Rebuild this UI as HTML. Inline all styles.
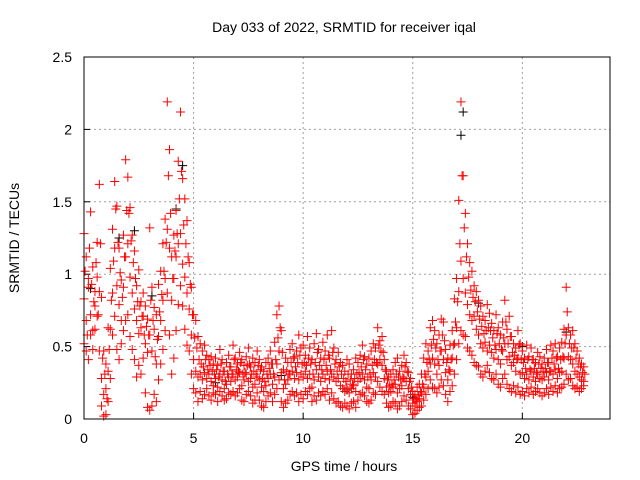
<!DOCTYPE html>
<html><head><meta charset="utf-8"><style>
html,body{margin:0;padding:0;background:#fff}
svg{display:block;font-family:"Liberation Sans",sans-serif}
</style></head><body>
<svg id="c" width="640" height="480" viewBox="0 0 640 480">
<text x="344" y="32" font-size="14" text-anchor="middle">Day 033 of 2022, SRMTID for receiver iqal</text>
<text x="344" y="471" font-size="14" text-anchor="middle">GPS time / hours</text>
<text transform="translate(19,238) rotate(-90)" font-size="14" text-anchor="middle">SRMTID / TECUs</text>
<g id="grid"></g>
<g id="ticks"></g>
<g id="black"></g>
<g id="red"></g>
<rect x="84" y="57" width="526" height="362" fill="none" stroke="#000" stroke-width="1"/>
</svg>
<script>
const xTicks=[0,5,10,15,20];
const yTicks=[0,0.5,1,1.5,2,2.5];
const yTickLabels=["0","0.5","1","1.5","2","2.5"];
const tStart=0, tStep=0.1;
const redA=[1.28,1.12,0.97,1.43,1.05,0.88,1.22,1.62,0.84,0.47, 0.38,0.63,1.04,1.31,1.64,1.47,1.18,0.96,1.27,1.79, 1.67,1.46,1.27,1.16,0.92,1.03,0.81,0.87,0.78,0.69, 1.32,0.91,0.77,0.72,0.93,1.02,1.21,1.38,2.19,1.86, 1.12,1.27,1.44,1.78,2.12,1.66,1.52,1.37,1.08,0.91, 0.72,0.68,0.57,0.52,0.47,0.51,0.44,0.41,0.43,0.38, 0.42,0.37,0.48,0.41,0.33,0.39,0.44,0.36,0.51,0.42, 0.38,0.46,0.41,0.37,0.43,0.49,0.36,0.42,0.39,0.47, 0.41,0.36,0.33,0.39,0.42,0.47,0.38,0.53,0.72,0.78, 0.61,0.34,0.42,0.39,0.48,0.52,0.43,0.47,0.58,0.49, 0.51,0.44,0.57,0.49,0.41,0.52,0.59,0.48,0.42,0.53, 0.47,0.58,0.42,0.61,0.49,0.41,0.46,0.39,0.37,0.33, 0.41,0.38,0.31,0.34,0.42,0.39,0.44,0.51,0.43,0.38, 0.42,0.47,0.52,0.49,0.63,0.54,0.57,0.41,0.33,0.29, 0.31,0.34,0.39,0.42,0.33,0.37,0.44,0.39,0.32,0.28, 0.19,0.17,0.22,0.24,0.31,0.42,0.52,0.47,0.63,0.68, 0.61,0.52,0.58,0.69,0.67,0.48,0.42,0.51,0.61,0.83, 0.97,1.51,2.19,1.68,1.42,1.21,1.08,1.02,0.92,0.88, 0.82,0.78,0.71,0.68,0.79,0.73,0.66,0.61,0.72,0.63, 0.58,0.67,0.82,0.62,0.71,0.57,0.52,0.49,0.61,0.52, 0.47,0.42,0.51,0.43,0.49,0.41,0.39,0.46,0.43,0.38, 0.42,0.48,0.39,0.51,0.47,0.52,0.43,0.49,0.53,0.62, 0.91,0.63,0.58,0.61,0.52,0.47,0.42,0.38,0.36];
const redB=[0.83,0.68,0.91,0.72,0.61,0.78,0.98,0.88,0.28,0.17, 0.21,0.33,0.62,0.87,1.18,0.92,0.79,0.68,0.91,1.12, 1.21,0.98,0.87,0.76,0.68,0.59,0.63,0.71,0.52,0.46, 0.58,0.47,0.62,0.38,0.57,0.68,0.82,0.97,1.31,1.18, 0.82,0.97,1.12,1.21,1.28,1.07,0.98,0.87,0.76,0.58, 0.41,0.33,0.29,0.31,0.27,0.32,0.28,0.31,0.26,0.23, 0.28,0.22,0.31,0.27,0.21,0.24,0.29,0.26,0.31,0.27, 0.29,0.32,0.23,0.27,0.31,0.26,0.28,0.22,0.24,0.29, 0.27,0.22,0.19,0.23,0.28,0.31,0.24,0.29,0.38,0.47, 0.32,0.21,0.24,0.27,0.31,0.33,0.28,0.32,0.27,0.31, 0.29,0.33,0.28,0.31,0.22,0.27,0.34,0.29,0.26,0.31, 0.28,0.33,0.27,0.31,0.29,0.26,0.28,0.23,0.21,0.19, 0.22,0.18,0.21,0.23,0.19,0.26,0.28,0.31,0.27,0.22, 0.21,0.27,0.32,0.29,0.38,0.41,0.37,0.28,0.22,0.18, 0.19,0.22,0.24,0.18,0.21,0.23,0.28,0.26,0.21,0.17, 0.11,0.09,0.12,0.14,0.18,0.22,0.29,0.33,0.38,0.42, 0.38,0.31,0.37,0.47,0.41,0.32,0.27,0.33,0.42,0.52, 0.63,0.88,1.09,0.97,0.87,0.79,0.72,0.68,0.71,0.62, 0.58,0.52,0.49,0.53,0.47,0.51,0.46,0.42,0.48,0.41, 0.38,0.47,0.52,0.41,0.43,0.37,0.39,0.33,0.42,0.31, 0.32,0.28,0.31,0.27,0.33,0.29,0.26,0.31,0.28,0.27, 0.29,0.32,0.27,0.33,0.31,0.34,0.28,0.32,0.33,0.42, 0.58,0.43,0.41,0.38,0.33,0.31,0.29,0.27,0.26];
const redC=[0.52,0.47,0.41,0.58,0.48,0.62,0.71,0.47,0.09,0.02, 0.03,0.12,0.28,0.58,0.71,0.48,0.41,0.52,0.61,0.68, 0.72,0.57,0.48,0.41,0.29,0.37,0.31,0.42,0.18,0.08, 0.06,0.09,0.17,0.12,0.27,0.38,0.48,0.61,0.87,0.58, 0.31,0.42,0.61,0.79,0.92,0.78,0.62,0.51,0.47,0.31, 0.21,0.18,0.12,0.19,0.14,0.17,0.21,0.16,0.13,0.18, 0.17,0.12,0.19,0.16,0.13,0.14,0.18,0.17,0.19,0.16, 0.18,0.21,0.13,0.12,0.17,0.19,0.16,0.11,0.13,0.18, 0.13,0.09,0.08,0.12,0.16,0.18,0.12,0.17,0.21,0.27, 0.12,0.08,0.11,0.13,0.17,0.19,0.16,0.18,0.12,0.17, 0.14,0.19,0.17,0.21,0.12,0.16,0.13,0.18,0.16,0.19, 0.17,0.21,0.13,0.18,0.14,0.11,0.12,0.09,0.08,0.11, 0.09,0.07,0.11,0.12,0.08,0.13,0.17,0.18,0.16,0.12, 0.11,0.13,0.18,0.17,0.26,0.22,0.19,0.17,0.11,0.08, 0.09,0.12,0.11,0.07,0.09,0.12,0.16,0.13,0.09,0.07, 0.03,0.04,0.06,0.08,0.09,0.13,0.17,0.21,0.27,0.22, 0.21,0.18,0.22,0.27,0.23,0.17,0.12,0.19,0.23,0.31, 0.41,0.52,0.61,0.58,0.57,0.49,0.47,0.44,0.39,0.37, 0.36,0.31,0.29,0.33,0.37,0.32,0.28,0.27,0.31,0.24, 0.22,0.28,0.31,0.24,0.21,0.19,0.23,0.18,0.22,0.17, 0.19,0.16,0.21,0.18,0.22,0.17,0.19,0.21,0.18,0.16, 0.18,0.21,0.17,0.22,0.19,0.23,0.18,0.21,0.22,0.24, 0.31,0.27,0.28,0.23,0.21,0.22,0.19,0.21,0.23];
const redD=[1.02,0.58,1.18,0.93,0.81,1.08,0.72,1.21,0.42,0.31, 0.14,0.48,0.82,1.09,1.45,1.22,1.01,0.84,1.12,1.44, 1.42,1.23,1.08,0.97,0.81,0.78,0.71,0.58,0.64,0.58, 0.82,0.68,0.43,0.55,0.74,0.86,1.02,1.22,1.68,1.42, 0.97,1.16,1.28,1.52,1.71,1.34,1.21,1.12,0.93,0.72, 0.56,0.49,0.41,0.38,0.36,0.41,0.34,0.37,0.33,0.31, 0.34,0.29,0.38,0.33,0.26,0.31,0.36,0.31,0.41,0.34, 0.33,0.39,0.31,0.32,0.37,0.38,0.31,0.33,0.31,0.37, 0.34,0.28,0.26,0.31,0.35,0.38,0.31,0.41,0.56,0.63, 0.46,0.27,0.33,0.31,0.39,0.42,0.36,0.39,0.44,0.38, 0.39,0.37,0.42,0.38,0.31,0.39,0.46,0.37,0.34,0.41, 0.37,0.44,0.34,0.46,0.38,0.33,0.36,0.31,0.28,0.26, 0.31,0.27,0.24,0.28,0.31,0.32,0.36,0.41,0.34,0.29, 0.31,0.37,0.41,0.39,0.51,0.47,0.46,0.34,0.27,0.23, 0.24,0.27,0.31,0.29,0.27,0.29,0.36,0.33,0.26,0.22, 0.14,0.13,0.16,0.19,0.24,0.31,0.39,0.41,0.51,0.55, 0.49,0.41,0.47,0.58,0.54,0.39,0.34,0.41,0.51,0.67, 0.81,1.21,1.68,1.32,1.12,0.98,0.89,0.84,0.81,0.74, 0.69,0.64,0.59,0.61,0.63,0.61,0.56,0.51,0.59,0.52, 0.48,0.56,0.67,0.52,0.57,0.46,0.44,0.41,0.51,0.41, 0.39,0.35,0.41,0.34,0.41,0.35,0.32,0.38,0.35,0.33, 0.35,0.39,0.33,0.42,0.38,0.42,0.35,0.41,0.43,0.52, 0.74,0.52,0.49,0.49,0.42,0.38,0.36,0.32,0.31];
const blackT=[0.3,1.6,2.3,3.1,4.2,4.5,6.0,9.0,12.0,15.0,17.2,17.3,18.0,20.0,22.0];
const blackV=[0.9,1.25,1.3,0.85,1.45,1.75,0.25,0.3,0.2,0.15,1.96,2.12,0.8,0.5,0.6];
const NS="http://www.w3.org/2000/svg";
const X0=84,X1=610,Y0=419,Y1=57;
function xs(t){return X0+(t/24)*(X1-X0);}
function ys(v){return Y0-(v/2.5)*(Y0-Y1);}
function mk(tag,attrs,parent){const e=document.createElementNS(NS,tag);for(const k in attrs)e.setAttribute(k,attrs[k]);parent.appendChild(e);return e;}
const grid=document.getElementById('grid'),ticks=document.getElementById('ticks');
xTicks.forEach(t=>{const x=xs(t);
 if(t>0){const l=mk('line',{x1:x,y1:Y0,x2:x,y2:Y1,stroke:'#a0a0a0','stroke-dasharray':'2,3'},grid);
 
 }
 const tx=mk('text',{x:x,y:443,'font-size':14,'text-anchor':'middle'},ticks);tx.textContent=t;
 
 
 mk('line',{x1:x,y1:Y0,x2:x,y2:Y0-6,stroke:'#000'},ticks);});
yTicks.forEach((v,i)=>{const y=ys(v);
 if(v>0&&v<2.5){const l=mk('line',{x1:X0,y1:y,x2:X1,y2:y,stroke:'#a0a0a0','stroke-dasharray':'2,3'},grid);
 
 }
 const tx=mk('text',{x:72,y:y+5,'font-size':14,'text-anchor':'end'},ticks);tx.textContent=yTickLabels[i];
 
 
 mk('line',{x1:X0,y1:y,x2:X0+6,y2:y,stroke:'#000'},ticks);});
function plus(g,t,v,col){const x=xs(t),y=ys(v);
 const p=mk('path',{d:`M${x-4.5},${y}H${x+4.5}M${x},${y-4.5}V${y+4.5}`,stroke:col,'stroke-width':1,fill:'none'},g);
 
 }
const bg=document.getElementById('black');
blackT.forEach((t,i)=>plus(bg,t,blackV[i],'#000'));
const rg=document.getElementById('red');
[redA,redB,redC].forEach(arr=>arr.forEach((v,i)=>plus(rg,tStart+i*tStep,v,'#ff0000')));
redD.forEach((v,i)=>plus(rg,tStart+tStep/2+i*tStep,v,'#ff0000'));
</script>
</body></html>
